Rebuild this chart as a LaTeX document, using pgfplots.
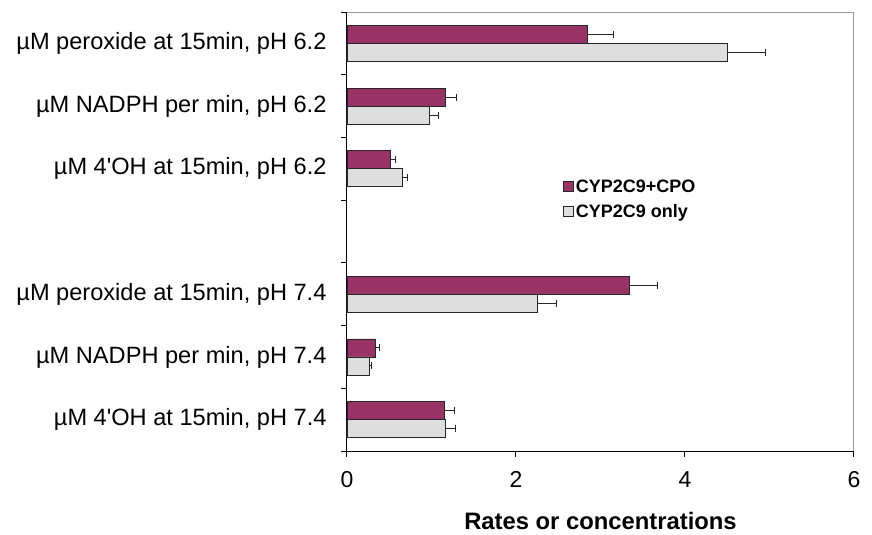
\documentclass[border=0pt]{standalone}
\usepackage{pgfplots}
\usepackage{pgfplotstable}
\pgfplotsset{compat=1.18}
\usepackage{fontspec}
\setmainfont{Liberation Sans}
\definecolor{plum}{HTML}{993366}
\definecolor{lgray}{HTML}{DEDEDE}

\pgfplotstableread{
y x err
6 2.85 0.30
5 1.165 0.135
4 0.51 0.065
2 3.34 0.34
1 0.335 0.045
0 1.15 0.12
}\cpo
\pgfplotstableread{
y x err
6 4.50 0.455
5 0.97 0.11
4 0.65 0.065
2 2.25 0.23
1 0.265 0.025
0 1.16 0.12
}\only

\begin{document}
\begin{tikzpicture}
\path[use as bounding box] (-347bp,-84bp) rectangle (525bp,451bp);
\begin{axis}[
  at={(0,0)}, anchor=south west,
  scale only axis, width=507bp, height=439bp,
  xmin=0, xmax=6, ymin=-0.5, ymax=6.5,
  xtick={0,2,4,6},
  ytick={-0.5,0.5,...,6.5}, yticklabels={},
  extra y ticks={0,1,2,4,5,6},
  extra y tick labels={{µM 4\textquotesingle OH at 15min, pH 7.4},{µM NADPH per min, pH 7.4},{µM peroxide at 15min, pH 7.4},{µM 4\textquotesingle OH at 15min, pH 6.2},{µM NADPH per min, pH 6.2},{µM peroxide at 15min, pH 6.2}},
  extra y tick style={major tick length=0pt, yticklabel style={xshift=-17bp, font=\fontsize{23.6bp}{28bp}\selectfont}},
  axis x line=bottom, axis y line=left,
  axis line style={-, black, line width=1bp},
  tick align=outside, major tick length=6bp,
  tick style={black, line width=1bp},
  ticklabel style={font=\fontsize{23bp}{27bp}\selectfont},
  /pgf/number format/assume math mode=true,
  xticklabel style={yshift=-11bp},
  xlabel={\textbf{Rates or concentrations}},
  xlabel style={font=\fontsize{23.8bp}{28bp}\selectfont, inner sep=0pt, yshift=-21bp},
  legend style={at={(0.42,0.628)}, anchor=north west, draw=none, fill=none,
    font=\fontsize{18bp}{22bp}\selectfont\bfseries, row sep=7bp,
    legend cell align=left},
  legend image code/.code={\draw[#1, line width=0.8bp] (0bp,-5bp) rectangle (10bp,5bp);},
  clip=false,
]
\addplot[xbar, bar width=18bp, bar shift=0pt, fill=plum, draw=black!85, line width=0.8bp,
  error bars/.cd, x dir=plus, x explicit,
  error bar style={black!85, line width=1bp},
  error mark options={rotate=90, mark size=3.5bp, black!85, line width=1bp}]
  table[x=x, y expr=\thisrow{y}+0.1435, x error=err] {\cpo};
\addlegendentry{CYP2C9+CPO}
\addplot[xbar, bar width=18bp, bar shift=0pt, fill=lgray, draw=black!85, line width=0.8bp,
  error bars/.cd, x dir=plus, x explicit,
  error bar style={black!85, line width=1bp},
  error mark options={rotate=90, mark size=3.5bp, black!85, line width=1bp}]
  table[x=x, y expr=\thisrow{y}-0.1435, x error=err] {\only};
\addlegendentry{CYP2C9 only}
\draw[gray!80, line width=1bp] (rel axis cs:0,1) -- (rel axis cs:1,1) -- (rel axis cs:1,0);
\end{axis}
\end{tikzpicture}
\end{document}
